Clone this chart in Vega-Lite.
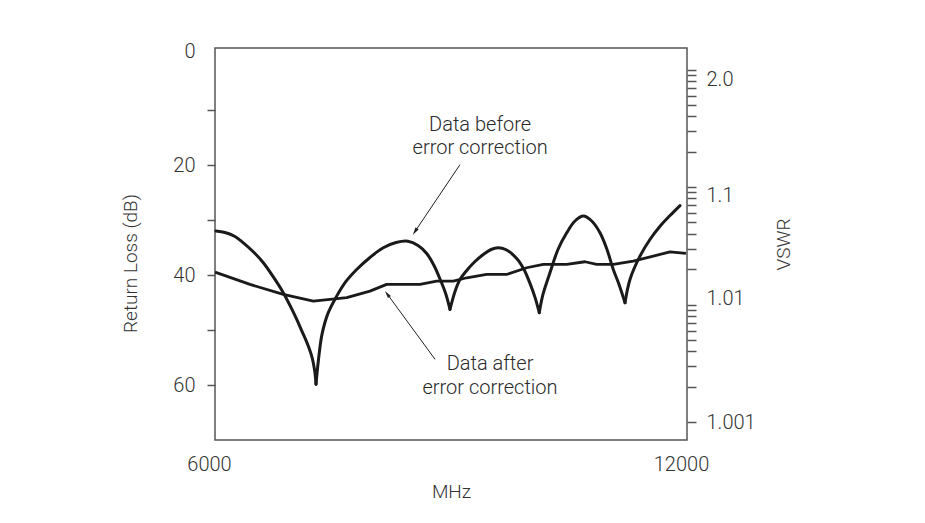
{
  "$schema": "https://vega.github.io/schema/vega-lite/v6.json",
  "width": 472,
  "height": 392,
  "autosize": {"type": "none"},
  "padding": {"left": 215, "top": 48, "right": 238, "bottom": 83},
  "background": "white",
  "config": {
    "view": {"stroke": "#555555", "strokeWidth": 1.5},
    "font": "Roboto",
    "axis": {
      "labelFont": "Roboto", "labelFontWeight": 300, "labelFontSize": 20, "labelColor": "#333333",
      "titleFont": "Roboto", "titleFontWeight": 300, "titleFontSize": 19, "titleColor": "#333333",
      "tickColor": "#555555", "tickWidth": 1.5, "grid": false, "domain": false
    },
    "text": {"font": "Roboto", "fontWeight": 300, "fontSize": 20, "color": "#2a2a2a"}
  },
  "datasets": {
    "curves": [
      {"series": "before", "seg": 1, "mhz": 6013, "rl": 31.99},
      {"series": "before", "seg": 1, "mhz": 6127, "rl": 32.26},
      {"series": "before", "seg": 1, "mhz": 6254, "rl": 32.99},
      {"series": "before", "seg": 1, "mhz": 6360, "rl": 34.13},
      {"series": "before", "seg": 1, "mhz": 6483, "rl": 35.71},
      {"series": "before", "seg": 1, "mhz": 6614, "rl": 37.76},
      {"series": "before", "seg": 1, "mhz": 6737, "rl": 40.25},
      {"series": "before", "seg": 1, "mhz": 6868, "rl": 43.21},
      {"series": "before", "seg": 1, "mhz": 6953, "rl": 45.52},
      {"series": "before", "seg": 1, "mhz": 7039, "rl": 48.06},
      {"series": "before", "seg": 1, "mhz": 7106, "rl": 50.24},
      {"series": "before", "seg": 1, "mhz": 7157, "rl": 51.87},
      {"series": "before", "seg": 1, "mhz": 7201, "rl": 53.5},
      {"series": "before", "seg": 1, "mhz": 7237, "rl": 55.14},
      {"series": "before", "seg": 1, "mhz": 7262, "rl": 56.95},
      {"series": "before", "seg": 1, "mhz": 7276, "rl": 58.41},
      {"series": "before", "seg": 1, "mhz": 7284, "rl": 59.86},
      {"series": "before", "seg": 2, "mhz": 7284, "rl": 59.86},
      {"series": "before", "seg": 2, "mhz": 7316, "rl": 55.32},
      {"series": "before", "seg": 2, "mhz": 7360, "rl": 50.78},
      {"series": "before", "seg": 2, "mhz": 7436, "rl": 46.97},
      {"series": "before", "seg": 2, "mhz": 7547, "rl": 43.83},
      {"series": "before", "seg": 2, "mhz": 7665, "rl": 41.16},
      {"series": "before", "seg": 2, "mhz": 7801, "rl": 38.98},
      {"series": "before", "seg": 2, "mhz": 7970, "rl": 36.8},
      {"series": "before", "seg": 2, "mhz": 8139, "rl": 35.04},
      {"series": "before", "seg": 2, "mhz": 8301, "rl": 34.08},
      {"series": "before", "seg": 2, "mhz": 8453, "rl": 33.84},
      {"series": "before", "seg": 2, "mhz": 8581, "rl": 34.62},
      {"series": "before", "seg": 2, "mhz": 8691, "rl": 36.07},
      {"series": "before", "seg": 2, "mhz": 8784, "rl": 38.25},
      {"series": "before", "seg": 2, "mhz": 8873, "rl": 41.16},
      {"series": "before", "seg": 2, "mhz": 8936, "rl": 43.52},
      {"series": "before", "seg": 2, "mhz": 8987, "rl": 46.24},
      {"series": "before", "seg": 3, "mhz": 8987, "rl": 46.24},
      {"series": "before", "seg": 3, "mhz": 9051, "rl": 42.97},
      {"series": "before", "seg": 3, "mhz": 9114, "rl": 40.8},
      {"series": "before", "seg": 3, "mhz": 9200, "rl": 39.16},
      {"series": "before", "seg": 3, "mhz": 9305, "rl": 37.53},
      {"series": "before", "seg": 3, "mhz": 9411, "rl": 36.26},
      {"series": "before", "seg": 3, "mhz": 9509, "rl": 35.35},
      {"series": "before", "seg": 3, "mhz": 9601, "rl": 35.04},
      {"series": "before", "seg": 3, "mhz": 9695, "rl": 35.35},
      {"series": "before", "seg": 3, "mhz": 9835, "rl": 36.98},
      {"series": "before", "seg": 3, "mhz": 9928, "rl": 38.98},
      {"series": "before", "seg": 3, "mhz": 10004, "rl": 41.52},
      {"series": "before", "seg": 3, "mhz": 10068, "rl": 44.06},
      {"series": "before", "seg": 3, "mhz": 10122, "rl": 46.84},
      {"series": "before", "seg": 4, "mhz": 10122, "rl": 46.84},
      {"series": "before", "seg": 4, "mhz": 10169, "rl": 43.52},
      {"series": "before", "seg": 4, "mhz": 10258, "rl": 39.58},
      {"series": "before", "seg": 4, "mhz": 10360, "rl": 35.35},
      {"series": "before", "seg": 4, "mhz": 10471, "rl": 32.32},
      {"series": "before", "seg": 4, "mhz": 10576, "rl": 30.17},
      {"series": "before", "seg": 4, "mhz": 10682, "rl": 29.27},
      {"series": "before", "seg": 4, "mhz": 10789, "rl": 30.17},
      {"series": "before", "seg": 4, "mhz": 10894, "rl": 32.32},
      {"series": "before", "seg": 4, "mhz": 10983, "rl": 35.35},
      {"series": "before", "seg": 4, "mhz": 11063, "rl": 38.98},
      {"series": "before", "seg": 4, "mhz": 11136, "rl": 41.7},
      {"series": "before", "seg": 4, "mhz": 11212, "rl": 45.03},
      {"series": "before", "seg": 5, "mhz": 11212, "rl": 45.03},
      {"series": "before", "seg": 5, "mhz": 11275, "rl": 40.8},
      {"series": "before", "seg": 5, "mhz": 11402, "rl": 36.56},
      {"series": "before", "seg": 5, "mhz": 11529, "rl": 33.53},
      {"series": "before", "seg": 5, "mhz": 11657, "rl": 31.12},
      {"series": "before", "seg": 5, "mhz": 11784, "rl": 29.18},
      {"series": "before", "seg": 5, "mhz": 11911, "rl": 27.36},
      {"series": "after", "seg": 6, "mhz": 6000, "rl": 39.47},
      {"series": "after", "seg": 6, "mhz": 6445, "rl": 41.7},
      {"series": "after", "seg": 6, "mhz": 6868, "rl": 43.52},
      {"series": "after", "seg": 6, "mhz": 7250, "rl": 44.73},
      {"series": "after", "seg": 6, "mhz": 7674, "rl": 44.12},
      {"series": "after", "seg": 6, "mhz": 7970, "rl": 42.92},
      {"series": "after", "seg": 6, "mhz": 8182, "rl": 41.7},
      {"series": "after", "seg": 6, "mhz": 8606, "rl": 41.7},
      {"series": "after", "seg": 6, "mhz": 8818, "rl": 41.1},
      {"series": "after", "seg": 6, "mhz": 9029, "rl": 41.1},
      {"series": "after", "seg": 6, "mhz": 9200, "rl": 40.49},
      {"series": "after", "seg": 6, "mhz": 9454, "rl": 39.89},
      {"series": "after", "seg": 6, "mhz": 9708, "rl": 39.89},
      {"series": "after", "seg": 6, "mhz": 9962, "rl": 38.67},
      {"series": "after", "seg": 6, "mhz": 10173, "rl": 38.07},
      {"series": "after", "seg": 6, "mhz": 10471, "rl": 38.07},
      {"series": "after", "seg": 6, "mhz": 10703, "rl": 37.58},
      {"series": "after", "seg": 6, "mhz": 10852, "rl": 38.07},
      {"series": "after", "seg": 6, "mhz": 11063, "rl": 38.07},
      {"series": "after", "seg": 6, "mhz": 11317, "rl": 37.47},
      {"series": "after", "seg": 6, "mhz": 11572, "rl": 36.56},
      {"series": "after", "seg": 6, "mhz": 11784, "rl": 35.77},
      {"series": "after", "seg": 6, "mhz": 11987, "rl": 36.07}
    ],
    "labels": [
      {"text": "Data before", "mhz": 9370, "rl": 12.65},
      {"text": "error correction", "mhz": 9370, "rl": 16.92},
      {"text": "Data after", "mhz": 9496, "rl": 56.23},
      {"text": "error correction", "mhz": 9496, "rl": 60.58}
    ],
    "arrows": [
      {"name": "before", "mhz": 9114, "rl": 19.92, "mhz2": 8545, "rl2": 32.02},
      {"name": "after", "mhz": 8797, "rl": 55.32, "mhz2": 8192, "rl2": 43.5}
    ],
    "vswr": [
      {"v": 0.001}, {"v": 0.002}, {"v": 0.003}, {"v": 0.004}, {"v": 0.005}, {"v": 0.006}, {"v": 0.007}, {"v": 0.008}, {"v": 0.009},
      {"v": 0.01}, {"v": 0.02}, {"v": 0.03}, {"v": 0.04}, {"v": 0.05}, {"v": 0.06}, {"v": 0.07}, {"v": 0.08}, {"v": 0.09},
      {"v": 0.1}, {"v": 0.2}, {"v": 0.3}, {"v": 0.4}, {"v": 0.5}, {"v": 0.6}, {"v": 0.7}, {"v": 0.8}, {"v": 0.9}, {"v": 1}
    ]
  },
  "layer": [
    {
      "encoding": {
        "x": {
          "field": "mhz", "type": "quantitative",
          "scale": {"domain": [6000, 12000], "nice": false, "zero": false},
          "axis": {"title": "MHz", "values": [6000, 12000], "ticks": false, "labelFlush": false, "labelOffset": -6, "labelPadding": 14, "titlePadding": 8, "format": "d"}
        },
        "y": {
          "field": "rl", "type": "quantitative",
          "scale": {"domain": [-1.3, 70], "reverse": true, "nice": false, "zero": false},
          "axis": {
            "orient": "left", "title": "Return Loss (dB)",
            "values": [0, 10, 20, 30, 40, 50, 60],
            "labelExpr": "datum.value % 20 === 0 ? datum.label : ''",
            "labelOffset": {"condition": {"test": "datum.value === 0", "value": -4}, "value": 0},
            "tickOpacity": {"condition": {"test": "datum.value === 0", "value": 0}, "value": 1},
            "tickSize": 8, "labelPadding": 12, "titlePadding": 32, "titleY": 215
          }
        }
      },
      "layer": [
        {
          "data": {"name": "curves"},
          "transform": [{"filter": "datum.series === 'before'"}],
          "mark": {"type": "line", "interpolate": "catmull-rom", "strokeWidth": 3, "color": "#1a1a1a", "strokeCap": "round", "strokeJoin": "round"},
          "encoding": {"detail": {"field": "seg", "type": "nominal"}}
        },
        {
          "data": {"name": "curves"},
          "transform": [{"filter": "datum.series === 'after'"}],
          "mark": {"type": "line", "interpolate": "linear", "strokeWidth": 2.8, "color": "#1a1a1a", "strokeJoin": "round"},
          "encoding": {}
        },
        {
          "data": {"name": "labels"},
          "mark": {"type": "text", "align": "center", "baseline": "middle"},
          "encoding": {"text": {"field": "text"}}
        },
        {
          "data": {"name": "arrows"},
          "mark": {"type": "rule", "strokeWidth": 1, "color": "#222222"},
          "encoding": {
            "x2": {"field": "mhz2"},
            "y2": {"field": "rl2"}
          }
        },
        {
          "data": {"name": "arrows"},
          "transform": [{"filter": "datum.name === 'before'"}],
          "mark": {"type": "point", "shape": "M0,-1L0.45,0.8L-0.45,0.8Z", "filled": true, "color": "#222222", "opacity": 1, "size": 70, "angle": 213.8},
          "encoding": {"x": {"field": "mhz2"}, "y": {"field": "rl2"}}
        },
        {
          "data": {"name": "arrows"},
          "transform": [{"filter": "datum.name === 'after'"}],
          "mark": {"type": "point", "shape": "M0,-1L0.45,0.8L-0.45,0.8Z", "filled": true, "color": "#222222", "opacity": 1, "size": 70, "angle": 323.8},
          "encoding": {"x": {"field": "mhz2"}, "y": {"field": "rl2"}}
        }
      ]
    },
    {
      "data": {"name": "vswr"},
      "mark": {"type": "point", "opacity": 0},
      "encoding": {
        "y": {
          "field": "v", "type": "quantitative",
          "scale": {"type": "log", "domain": [0.000703, 1.529], "nice": false},
          "axis": {
            "orient": "right", "title": "VSWR", "titleAngle": 270,
            "values": [0.001, 0.002, 0.003, 0.004, 0.005, 0.006, 0.007, 0.008, 0.009, 0.01, 0.02, 0.03, 0.04, 0.05, 0.06, 0.07, 0.08, 0.09, 0.1, 0.2, 0.3, 0.4, 0.5, 0.6, 0.7, 0.8, 0.9, 1],
            "labelExpr": "datum.value === 1 ? '2.0' : datum.value === 0.1 ? '1.1' : datum.value === 0.01 ? '1.01' : datum.value === 0.001 ? '1.001' : ''",
            "labelOffset": {"condition": [
              {"test": "datum.value === 1", "value": 10},
              {"test": "datum.value === 0.1", "value": 8},
              {"test": "datum.value === 0.01", "value": -6}
            ], "value": 0},
            "tickSize": 9, "labelPadding": 10, "titlePadding": 38
          }
        }
      }
    }
  ],
  "resolve": {"scale": {"y": "independent"}}
}
